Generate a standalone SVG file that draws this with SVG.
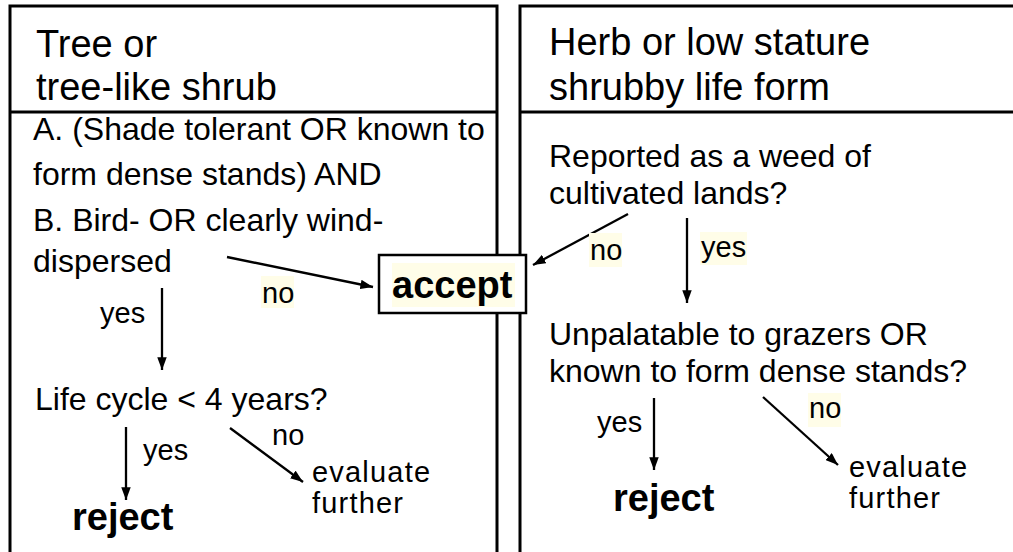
<svg xmlns="http://www.w3.org/2000/svg" width="1013" height="552" viewBox="0 0 1013 552">
<defs>
<marker id="ah" viewBox="0 0 12 9" refX="12" refY="4.5" markerWidth="5.5" markerHeight="4.2" markerUnits="strokeWidth" orient="auto">
<path d="M0,0 L12,4.5 L0,9 z" fill="#000"/>
</marker>
<style>
text{font-family:"Liberation Sans",Arial,sans-serif;fill:#000}
.hd{font-size:38px}
.bd{font-size:32px}
.lb{font-size:29px}
.ev{font-size:29px;letter-spacing:1.2px}
.bo{font-size:38px;font-weight:bold}
.panel{fill:none;stroke:#000;stroke-width:3}
.hl{fill:#FFFDE8}
.arr{stroke:#000;stroke-width:2.3;fill:none;marker-end:url(#ah)}
</style>
</defs>
<rect width="1013" height="552" fill="#fff"/>
<g id="panel-tree">
<path class="panel" d="M10,560 V6 H497 V560 M10,112 H497"/>
<text class="hd" x="36" y="57">Tree or</text>
<text class="hd" x="36" y="100">tree-like shrub</text>
<text class="bd" x="33" y="140">A. (Shade tolerant OR known to</text>
<text class="bd" x="33" y="185">form dense stands) AND</text>
<text class="bd" x="33" y="231">B. Bird- OR clearly wind-</text>
<text class="bd" x="33" y="272">dispersed</text>
<text class="bd" x="35" y="410">Life cycle &lt; 4 years?</text>
<text class="ev" x="312" y="482">evaluate</text>
<text class="ev" x="312" y="513">further</text>
<text class="bo" x="72" y="530">reject</text>
</g>
<g id="panel-herb">
<path class="panel" d="M520,560 V6 H1020 M520,112 H1020"/>
<text class="hd" x="549" y="55">Herb or low stature</text>
<text class="hd" x="549" y="100">shrubby life form</text>
<text class="bd" x="549" y="167">Reported as a weed of</text>
<text class="bd" x="549" y="204">cultivated lands?</text>
<text class="bd" x="549" y="345">Unpalatable to grazers OR</text>
<text class="bd" x="549" y="382">known to form dense stands?</text>
<text class="ev" x="849" y="477">evaluate</text>
<text class="ev" x="849" y="508">further</text>
<text class="bo" x="613" y="511">reject</text>
</g>
<g id="accept">
<rect x="379" y="255" width="147" height="58" fill="#fff" stroke="#000" stroke-width="2.5"/>
<rect class="hl" x="392" y="263" width="123" height="44"/>
<text class="bo" x="392" y="298">accept</text>
</g>
<g id="connectors">
<line class="arr" x1="227" y1="257" x2="373" y2="287"/>
<rect class="hl" x="261" y="276" width="33" height="32"/>
<text class="lb" x="262" y="303">no</text>
<line class="arr" x1="162" y1="288" x2="162" y2="370"/>
<text class="lb" x="100" y="323">yes</text>
<line class="arr" x1="126" y1="427" x2="126" y2="500"/>
<text class="lb" x="143" y="460">yes</text>
<line class="arr" x1="230" y1="428" x2="303" y2="482"/>
<text class="lb" x="272" y="445">no</text>
<line class="arr" x1="628" y1="214" x2="533" y2="265"/>
<rect class="hl" x="589" y="233" width="33" height="34"/>
<text class="lb" x="590" y="260">no</text>
<line class="arr" x1="687" y1="218" x2="687" y2="303"/>
<rect class="hl" x="700" y="232" width="47" height="33"/>
<text class="lb" x="701" y="257">yes</text>
<line class="arr" x1="654" y1="398" x2="654" y2="470"/>
<text class="lb" x="597" y="432">yes</text>
<line class="arr" x1="763" y1="397" x2="838" y2="465"/>
<rect class="hl" x="808" y="393" width="33" height="34"/>
<text class="lb" x="809" y="418">no</text>
</g>
</svg>
